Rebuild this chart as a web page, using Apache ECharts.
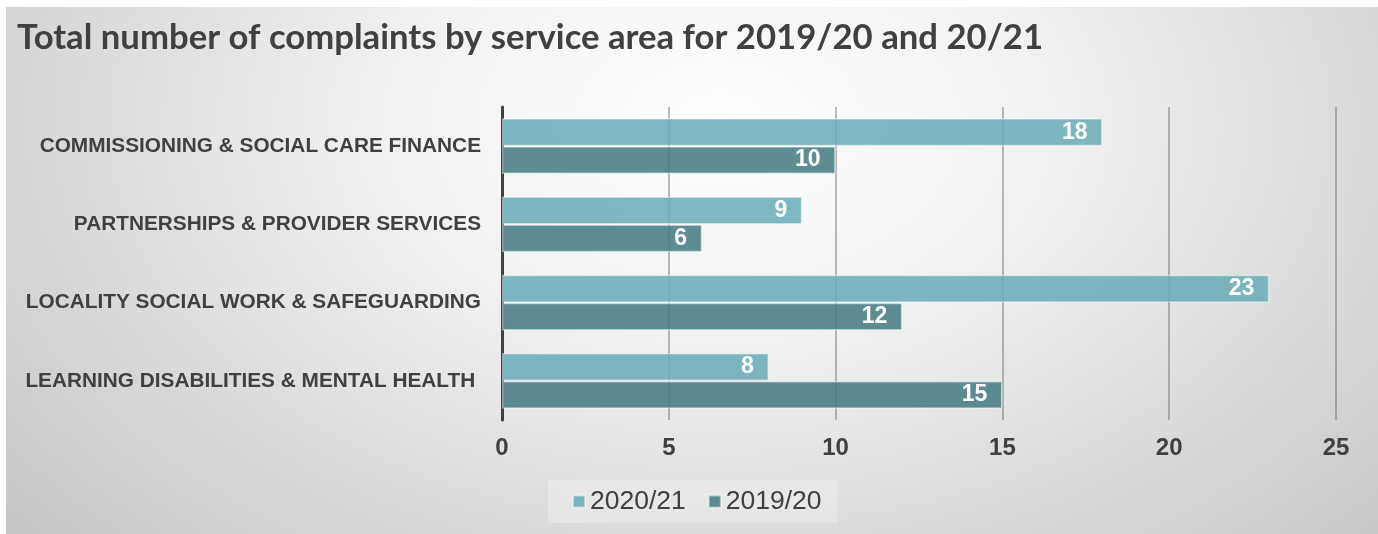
<!DOCTYPE html>
<html>
<head>
<meta charset="utf-8">
<script src="https://cdn.jsdelivr.net/npm/echarts@6/dist/echarts.min.js"></script>
<style>
  html, body { margin: 0; padding: 0; background: #ffffff; }
  #bg { position: absolute; left: 6px; top: 7px; width: 1372px; height: 527px;
        background: radial-gradient(ellipse 70% 120% at 52% 22%, #ffffff 0%, #f1f1f1 35%, #dcdcdc 65%, #c4c4c4 100%); }
  #chart { position: absolute; left: 0; top: 0; width: 1378px; height: 534px; }
</style>
</head>
<body>
<div id="bg"></div>
<div id="chart"></div>
<script>
const titleText = 'Total number of complaints by service area for 2019/20 and 20/21';
const categories = [
  'COMMISSIONING & SOCIAL CARE FINANCE',
  'PARTNERSHIPS & PROVIDER SERVICES',
  'LOCALITY SOCIAL WORK & SAFEGUARDING',
  'LEARNING DISABILITIES & MENTAL HEALTH '
];
const seriesNames = ['2020/21', '2019/20'];
const values2021 = [18, 9, 23, 8];
const values1920 = [10, 6, 12, 15];
const xTicks = [0, 5, 10, 15, 20, 25];

const labelFont = 'Liberation Sans';
const chart = echarts.init(document.getElementById('chart'), null, { renderer: 'canvas' });
const barLabel = {
  show: true, position: 'insideRight', distance: 15,
  color: '#ffffff', fontSize: 23, fontWeight: 'bold', fontFamily: labelFont
};
chart.setOption({
  backgroundColor: 'transparent',
  animation: false,
  title: {
    text: titleText, left: 12, top: 15,
    textStyle: { fontFamily: 'Lato', fontWeight: 'bold', fontSize: 34.7, color: '#404040' }
  },
  legend: {
    data: seriesNames,
    left: 548, top: 480,
    padding: [8, 16, 8, 24],
    backgroundColor: 'rgba(255,255,255,0.25)',
    itemWidth: 12, itemHeight: 12, itemGap: 22,
    icon: 'rect',
    textStyle: { fontFamily: labelFont, fontSize: 26.5, color: '#404040' }
  },
  grid: { left: 502, right: 42, top: 107, bottom: 114, containLabel: false },
  xAxis: {
    type: 'value', min: xTicks[0], max: xTicks[xTicks.length - 1], interval: 5,
    axisLine: { show: false }, axisTick: { show: false },
    splitLine: { show: true, lineStyle: { color: 'rgba(80,80,80,0.5)', width: 1.5 } },
    axisLabel: { margin: 16, fontFamily: labelFont, fontWeight: 'bold', fontSize: 24, color: '#404040' }
  },
  yAxis: {
    type: 'category', data: categories, inverse: true,
    axisLine: { show: true, lineStyle: { color: '#404040', width: 3 } },
    axisTick: { show: false },
    axisLabel: { margin: 21, fontFamily: labelFont, fontWeight: 'bold', fontSize: 20.8, color: '#404040' }
  },
  series: [
    {
      name: seriesNames[0], type: 'bar', data: values2021,
      barGap: '0%', barCategoryGap: '29%',
      itemStyle: { color: 'rgba(109,173,183,0.88)', borderColor: 'rgba(255,255,255,0.45)', borderWidth: 1.5 },
      label: barLabel
    },
    {
      name: seriesNames[1], type: 'bar', data: values1920,
      barGap: '0%', barCategoryGap: '29%',
      itemStyle: { color: 'rgba(71,125,132,0.88)', borderColor: 'rgba(255,255,255,0.45)', borderWidth: 1.5 },
      label: barLabel
    }
  ]
});
</script>
</body>
</html>
